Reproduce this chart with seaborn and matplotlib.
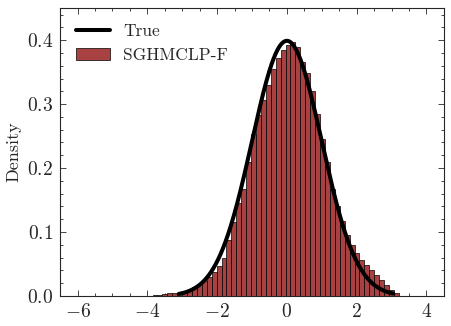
import numpy as np
import pandas as pd
import matplotlib
matplotlib.use("Agg")
import matplotlib.pyplot as plt
import seaborn as sns
from matplotlib.ticker import MultipleLocator

# ---- data ----
bin_lo, bin_hi, n_bins = -3.85, 3.21, 50
densities = [0.0008, 0.0016, 0.003, 0.004, 0.005, 0.005, 0.008, 0.010, 0.0146, 0.019,
             0.024, 0.030, 0.037, 0.047, 0.060, 0.087, 0.115, 0.145, 0.168, 0.210,
             0.254, 0.283, 0.306, 0.330, 0.355, 0.372, 0.384, 0.393, 0.397, 0.389,
             0.366, 0.349, 0.320, 0.285, 0.245, 0.210, 0.168, 0.140, 0.118, 0.095,
             0.080, 0.067, 0.057, 0.048, 0.041, 0.033, 0.025, 0.017, 0.010, 0.005]
true_x_range = (-3.1, 3.05)
hist_label = "SGHMCLP-F"
line_label = "True"

edges = np.linspace(bin_lo, bin_hi, n_bins + 1)
centers = (edges[:-1] + edges[1:]) / 2
df = pd.DataFrame({"x": centers, "w": densities})

xs = np.linspace(true_x_range[0], true_x_range[1], 1000)
pdf = np.exp(-xs ** 2 / 2) / np.sqrt(2 * np.pi)
line_df = pd.DataFrame({"x": xs, "y": pdf})

sns.set_style("ticks")
plt.rcParams["font.family"] = ["cmr10", "DejaVu Serif"]
plt.rcParams["mathtext.fontset"] = "cm"
plt.rcParams["axes.formatter.use_mathtext"] = True
plt.rcParams["axes.unicode_minus"] = True

fig = plt.figure(figsize=(4.52, 3.26), dpi=100)
ax = fig.add_axes([0.133, 0.092, 0.849, 0.883])

sns.lineplot(data=line_df, x="x", y="y", color="black", lw=2.9, label=line_label, ax=ax, zorder=3)
sns.histplot(data=df, x="x", weights="w", bins=n_bins, binrange=(bin_lo, bin_hi), stat="count",
             color="#a84242", alpha=1.0, edgecolor="black", linewidth=0.5,
             label=hist_label, ax=ax, zorder=2)

ax.set_xlim(-6.5, 4.5)
ax.set_ylim(0, 0.45)
ax.set_xlabel("")
ax.set_ylabel("Density", fontsize=13, labelpad=4)
ax.xaxis.set_major_locator(MultipleLocator(2))
ax.xaxis.set_minor_locator(MultipleLocator(0.5))
ax.yaxis.set_major_locator(MultipleLocator(0.1))
ax.yaxis.set_minor_locator(MultipleLocator(0.02))
ax.tick_params(which="both", direction="in", top=True, right=True, labelsize=14, width=0.6)
ax.tick_params(which="major", length=4, pad=5)
ax.tick_params(which="minor", length=2)
for s in ax.spines.values():
    s.set_linewidth(0.8)
    s.set_visible(True)

ax.legend(loc="upper left", frameon=False, fontsize=12.5, handlelength=2.0,
          handletextpad=0.75, borderaxespad=0.5)

fig.savefig("out.png", dpi=100)
